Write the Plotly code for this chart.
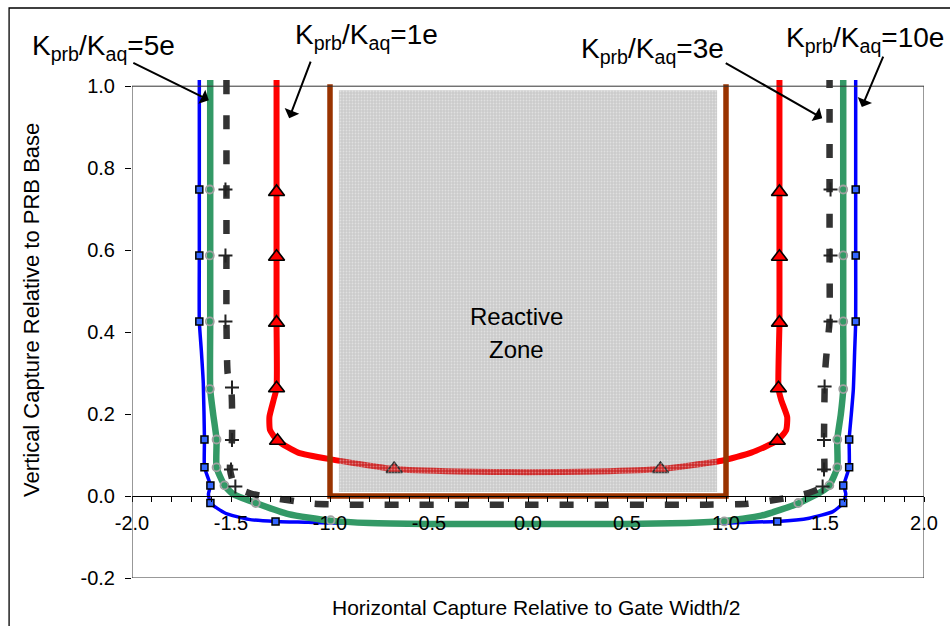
import plotly.graph_objects as go

# Capture-zone outlines for several PRB/aquifer conductivity ratios.
# x: horizontal capture relative to gate width/2, y: vertical capture relative to PRB base.

# K_prb/K_aq = 10e (blue)
k10_x = [-1.660, -1.660, -1.660, -1.660, -1.650, -1.640, -1.634, -1.634, -1.604, -1.614, -1.604,
         -1.528, -1.410, -1.275, -1.110, -1.000, -0.500, 0.000, 0.500, 1.000, 1.110, 1.259,
         1.420, 1.540, 1.592, 1.605, 1.595, 1.622, 1.622, 1.633, 1.643, 1.650, 1.655, 1.655,
         1.655, 1.655]
k10_y = [1.015, 0.748, 0.587, 0.426, 0.356, 0.276, 0.138, 0.070, 0.026, 0.005, -0.017,
         -0.042, -0.057, -0.062, -0.064, -0.066, -0.068, -0.068, -0.068, -0.066, -0.064, -0.062,
         -0.054, -0.038, -0.017, 0.005, 0.026, 0.070, 0.138, 0.200, 0.259, 0.356, 0.426, 0.587,
         0.748, 1.015]
k10_mx = [-1.660, -1.660, -1.660, -1.634, -1.634, -1.604, -1.604, -1.275,
          1.259, 1.592, 1.592, 1.622, 1.622, 1.655, 1.655, 1.655]
k10_my = [0.748, 0.587, 0.426, 0.138, 0.070, 0.026, -0.017, -0.062,
          -0.062, -0.017, 0.026, 0.070, 0.138, 0.426, 0.587, 0.748]

# K_prb/K_aq = 5e (green)
k5_x = [-1.605, -1.605, -1.605, -1.605, -1.605, -1.590, -1.573, -1.573, -1.533, -1.490, -1.375,
        -1.210, -0.997, -0.800, -0.500, 0.000, 0.500, 0.800, 0.991, 1.178, 1.365, 1.479,
        1.522, 1.562, 1.562, 1.580, 1.592, 1.592, 1.592, 1.592, 1.592]
k5_y = [1.015, 0.748, 0.587, 0.426, 0.261, 0.200, 0.138, 0.070, 0.026, 0.005, -0.017,
        -0.044, -0.060, -0.066, -0.068, -0.068, -0.068, -0.066, -0.061, -0.048, -0.018, 0.010,
        0.026, 0.070, 0.138, 0.200, 0.261, 0.426, 0.587, 0.748, 1.015]
k5_mx = [-1.607, -1.607, -1.607, -1.607, -1.573, -1.573, -1.533, -1.375, -0.997,
         0.991, 1.365, 1.522, 1.562, 1.562, 1.592, 1.592, 1.592, 1.592]
k5_my = [0.748, 0.587, 0.426, 0.261, 0.138, 0.070, 0.026, -0.017, -0.059,
         -0.062, -0.017, 0.026, 0.070, 0.138, 0.261, 0.426, 0.587, 0.748]

# K_prb/K_aq = 3e (dashed)
k3_x = [-1.523, -1.523, -1.523, -1.523, -1.517, -1.497, -1.495, -1.505, -1.480, -1.400, -1.280,
        -1.080, -0.900, 0.000, 0.900, 1.110, 1.300, 1.420, 1.490, 1.497, 1.495, 1.500, 1.510,
        1.523, 1.523, 1.523, 1.523]
k3_y = [1.015, 0.748, 0.587, 0.426, 0.300, 0.250, 0.137, 0.065, 0.023, 0.006, -0.005,
        -0.019, -0.021, -0.021, -0.021, -0.019, -0.005, 0.008, 0.023, 0.065, 0.137, 0.300, 0.360,
        0.426, 0.587, 0.748, 1.015]
k3_mx = [-1.528, -1.528, -1.528, -1.495, -1.495, -1.500, -1.478,
         1.488, 1.495, 1.495, 1.498, 1.528, 1.528, 1.528]
k3_my = [0.748, 0.587, 0.426, 0.265, 0.137, 0.065, 0.023,
         0.023, 0.065, 0.137, 0.267, 0.426, 0.587, 0.748]

# K_prb/K_aq = 1e (red)
k1_x = [-1.270, -1.270, -1.270, -1.270, -1.270, -1.285, -1.306, -1.303, -1.265, -1.161, -0.994,
        -0.676, -0.350, 0.000, 0.350, 0.669, 0.978, 1.128, 1.259, 1.304, 1.309, 1.279, 1.265,
        1.270, 1.270, 1.270, 1.270]
k1_y = [1.015, 0.742, 0.584, 0.423, 0.263, 0.234, 0.193, 0.161, 0.135, 0.106, 0.0895,
        0.066, 0.060, 0.058, 0.060, 0.066, 0.086, 0.106, 0.135, 0.161, 0.193, 0.234, 0.263,
        0.423, 0.584, 0.742, 1.015]
k1_mx = [-1.270, -1.270, -1.270, -1.270, -1.265, -0.676, 0.669, 1.259, 1.265, 1.270, 1.270, 1.270]
k1_my = [0.742, 0.584, 0.423, 0.263, 0.135, 0.066, 0.066, 0.135, 0.263, 0.423, 0.584, 0.742]

# Reactive zone: wall outline and interior
wall_x = [-1.0, -1.0, 1.0, 1.0]
wall_y = [1.005, 0.0, 0.0, 1.005]
zone_x = [-0.955, 0.955, 0.955, -0.955, -0.955]
zone_y = [0.010, 0.010, 0.990, 0.990, 0.010]

# Axis ticks
x_ticks = [-2.0, -1.5, -1.0, -0.5, 0.0, 0.5, 1.0, 1.5, 2.0]
x_labels = ["-2.0", "-1.5", "-1.0", "-0.5", "0.0", "0.5", "1.0", "1.5", "2.0"]
y_ticks = [-0.2, 0.0, 0.2, 0.4, 0.6, 0.8, 1.0]
y_labels = ["-0.2", "0.0", "0.2", "0.4", "0.6", "0.8", "1.0"]

# ---------------------------------------------------------------- layout geometry
W, H = 950, 626
ML, MR, MT, MB = 132, 19, 78, 48
PW, PH = W - ML - MR, H - MT - MB
Y_RANGE = [-0.2, 1.02]
FONT = "Arial, Liberation Sans, Helvetica, sans-serif"


def px_x(p):
    return (p - ML) / PW


def px_y(p):
    return (H - MB - p) / PH


fig = go.Figure()


def add_line(x, y, color, width, dash=None):
    fig.add_trace(go.Scatter(
        x=x, y=y, mode="lines", hoverinfo="skip",
        line=dict(color=color, width=width, dash=dash, shape="spline", smoothing=0.5),
    ))


def add_markers(x, y, **marker):
    fig.add_trace(go.Scatter(x=x, y=y, mode="markers", hoverinfo="skip", marker=marker))


add_line(k10_x, k10_y, "#0000ff", 3.5)
add_markers(k10_mx, k10_my, symbol="square", size=7, color="#3366ff",
            line=dict(color="black", width=1.5))

add_line(k5_x, k5_y, "#339966", 6.5)
add_markers(k5_mx, k5_my, symbol="circle-open", size=8, color="#a0a0a0",
            line=dict(color="#a0a0a0", width=1.8))

add_line(k3_x, k3_y, "#333333", 6.5, dash="14px,21px")
add_markers(k3_mx, k3_my, symbol="cross-thin", size=10, color="#222222",
            line=dict(color="#222222", width=2))

add_line(k1_x, k1_y, "#ff0000", 6)
add_markers(k1_mx, k1_my, symbol="triangle-up", size=14, color="#ff0000",
            line=dict(color="black", width=1.6))

# textured reactive media, drawn over the red curve where they overlap
fig.add_trace(go.Scatter(
    x=zone_x, y=zone_y, mode="lines", fill="toself", hoverinfo="skip",
    line=dict(width=0, color="rgba(0,0,0,0)"),
    fillcolor="rgba(110,110,110,0.36)",
    fillpattern=dict(shape=".", bgcolor="rgba(110,110,110,0.36)",
                     fgcolor="white", fgopacity=0.4, size=3, solidity=0.3),
))

fig.add_trace(go.Scatter(
    x=wall_x, y=wall_y, mode="lines", hoverinfo="skip",
    line=dict(color="#993300", width=5.5),
))

# ---------------------------------------------------------------- frames
shapes = [
    # plot area border
    dict(type="rect", xref="x", yref="y", x0=-2, x1=2, y0=-0.2, y1=1.0,
         line=dict(color="#333333", width=1), layer="above"),
    # chart border
    dict(type="rect", xref="paper", yref="paper",
         x0=px_x(8), x1=px_x(1000), y0=px_y(700), y1=px_y(8),
         line=dict(color="black", width=1.3), layer="above"),
]

# ---------------------------------------------------------------- text
annotations = []


def label(text, cx, cy, size, angle=0):
    annotations.append(dict(
        text=text, x=px_x(cx), y=px_y(cy), xref="paper", yref="paper",
        xanchor="center", yanchor="middle", showarrow=False, textangle=angle,
        font=dict(family=FONT, size=size, color="black"),
    ))


def arrow(hx, hy, ax, ay):
    annotations.append(dict(
        text="", x=hx, y=hy, xref="x", yref="y", ax=ax, ay=ay,
        showarrow=True, arrowhead=1, arrowsize=1.3, arrowwidth=2, arrowcolor="black",
        standoff=0,
    ))


label("K<sub>prb</sub>/K<sub>aq</sub>=5e", 103, 48, 28)
label("K<sub>prb</sub>/K<sub>aq</sub>=1e", 369, 37, 28)
label("K<sub>prb</sub>/K<sub>aq</sub>=3e", 657, 51, 28)
label("K<sub>prb</sub>/K<sub>aq</sub>=10e", 871, 40, 28)

arrow(-1.612, 0.966, -77, -38)
arrow(-1.206, 0.922, 22, -58)
arrow(1.486, 0.922, -98, -56)
arrow(1.686, 0.949, 22, -52)

label("Reactive", 520, 316, 24)
label("Zone", 520, 349, 24)

label("Horizontal Capture Relative to Gate Width/2", 540, 607, 21)
label("Vertical Capture Relative to PRB Base", 30, 310, 22, angle=-90)

fig.update_layout(
    width=W, height=H,
    margin=dict(l=ML, r=MR, t=MT, b=MB, pad=0),
    paper_bgcolor="white", plot_bgcolor="white",
    showlegend=False,
    font=dict(family=FONT, color="black"),
    shapes=shapes,
    annotations=annotations,
    xaxis=dict(
        range=[-2, 2], tickmode="array", tickvals=x_ticks, ticktext=x_labels,
        ticks="outside", ticklen=5, tickcolor="black", tickwidth=1,
        minor=dict(dtick=0.1, tick0=0, ticks="outside", ticklen=5, tickcolor="black",
                   showgrid=False),
        showline=True, linecolor="black", linewidth=1,
        anchor="free", position=(0 - Y_RANGE[0]) / (Y_RANGE[1] - Y_RANGE[0]),
        showgrid=False, zeroline=False, ticklabelstandoff=4,
        tickfont=dict(family=FONT, size=20, color="black"),
    ),
    yaxis=dict(
        range=Y_RANGE, tickmode="array", tickvals=y_ticks, ticktext=y_labels,
        ticks="outside", ticklen=6, tickcolor="black", tickwidth=1,
        showline=False, showgrid=False, zeroline=False, ticklabelstandoff=6,
        tickfont=dict(family=FONT, size=20, color="black"),
    ),
)

fig.write_html("out.html")
